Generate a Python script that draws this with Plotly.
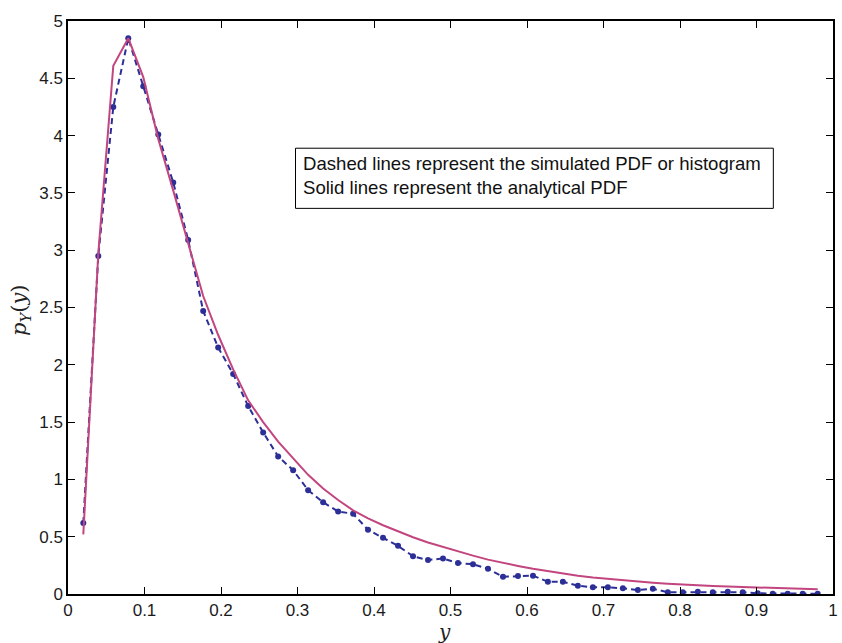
import plotly.graph_objects as go

# bin centres (y)
x_vals = [0.0200, 0.0396, 0.0592, 0.0788, 0.0984, 0.1180, 0.1376, 0.1571, 0.1767, 0.1963,
          0.2159, 0.2355, 0.2551, 0.2747, 0.2943, 0.3139, 0.3335, 0.3531, 0.3727, 0.3922,
          0.4118, 0.4314, 0.4510, 0.4706, 0.4902, 0.5098, 0.5294, 0.5490, 0.5686, 0.5882,
          0.6078, 0.6273, 0.6469, 0.6665, 0.6861, 0.7057, 0.7253, 0.7449, 0.7645, 0.7841,
          0.8037, 0.8233, 0.8429, 0.8624, 0.8820, 0.9016, 0.9212, 0.9408, 0.9604, 0.9800]

# simulated PDF (histogram) values
sim_pdf = [0.62, 2.95, 4.25, 4.85, 4.43, 4.01, 3.59, 3.09, 2.47, 2.15,
           1.92, 1.64, 1.41, 1.20, 1.08, 0.906, 0.80, 0.72, 0.70, 0.56,
           0.49, 0.42, 0.33, 0.296, 0.31, 0.27, 0.26, 0.22, 0.15, 0.157,
           0.16, 0.107, 0.107, 0.073, 0.058, 0.058, 0.05, 0.035, 0.046, 0.015,
           0.015, 0.02, 0.015, 0.02, 0.015, 0.006, 0.003, 0.003, 0.003, 0.003]

# analytical PDF values
ana_pdf = [0.52, 2.97, 4.61, 4.85, 4.51, 3.97, 3.52, 3.07, 2.60, 2.26,
           1.96, 1.69, 1.50, 1.33, 1.18, 1.04, 0.92, 0.82, 0.73, 0.66,
           0.60, 0.545, 0.495, 0.45, 0.41, 0.37, 0.335, 0.30, 0.27, 0.245,
           0.22, 0.198, 0.178, 0.16, 0.145, 0.132, 0.12, 0.109, 0.099, 0.090,
           0.082, 0.076, 0.070, 0.065, 0.060, 0.056, 0.052, 0.048, 0.045, 0.041]

x_ticks = [0, 0.1, 0.2, 0.3, 0.4, 0.5, 0.6, 0.7, 0.8, 0.9, 1]
x_tick_text = ["0", "0.1", "0.2", "0.3", "0.4", "0.5", "0.6", "0.7", "0.8", "0.9", "1"]
y_ticks = [0, 0.5, 1, 1.5, 2, 2.5, 3, 3.5, 4, 4.5, 5]
y_tick_text = ["0", "0.5", "1", "1.5", "2", "2.5", "3", "3.5", "4", "4.5", "5"]

note_lines = ["Dashed lines represent the simulated PDF or histogram",
              "Solid lines represent the analytical PDF"]

BLUE = "#2b2f96"
PINK = "#c2457f"

fig = go.Figure()
fig.add_trace(go.Scatter(
    x=x_vals, y=sim_pdf, mode="lines+markers",
    line=dict(color=BLUE, width=2, dash="6px,4px"),
    marker=dict(color=BLUE, size=6),
    showlegend=False))
fig.add_trace(go.Scatter(
    x=x_vals, y=ana_pdf, mode="lines",
    line=dict(color=PINK, width=2),
    showlegend=False))

axis_common = dict(
    showline=True, linecolor="black", linewidth=1.5, mirror="ticks",
    ticks="inside", ticklen=7, tickwidth=1, tickcolor="black",
    showgrid=False, zeroline=False,
    tickfont=dict(family="Liberation Sans, Arial", size=17, color="#1a1a1a"),
)

fig.update_xaxes(range=[0, 1], tickvals=x_ticks, ticktext=x_tick_text, **axis_common)
fig.update_yaxes(range=[0, 5], tickvals=y_ticks, ticktext=y_tick_text, **axis_common)

fig.add_shape(type="rect", xref="paper", yref="paper",
              x0=0.2974, x1=0.922, y0=0.673, y1=0.778,
              line=dict(color="black", width=1), fillcolor="white", layer="above")
fig.add_annotation(xref="paper", yref="paper", x=0.304, y=0.773,
                   xanchor="left", yanchor="top", align="left", showarrow=False,
                   text="<br>".join(note_lines),
                   font=dict(family="Liberation Sans, Arial", size=18.6, color="#111"))

fig.add_annotation(xref="paper", yref="paper", x=0.492, y=-0.066,
                   xanchor="center", yanchor="middle", showarrow=False,
                   text="<i>y</i>",
                   font=dict(family="DejaVu Serif", size=20, color="#222"))
fig.add_annotation(xref="paper", yref="paper", x=-0.062, y=0.495,
                   xanchor="center", yanchor="middle", showarrow=False, textangle=-90,
                   text="<i>p</i><sub><i>Y</i></sub>(<i>y</i>)",
                   font=dict(family="DejaVu Serif", size=21, color="#222"))

fig.update_layout(
    width=842, height=643,
    margin=dict(l=68, r=4, t=21, b=49),
    plot_bgcolor="white", paper_bgcolor="white",
)

fig.write_html("out.html")
